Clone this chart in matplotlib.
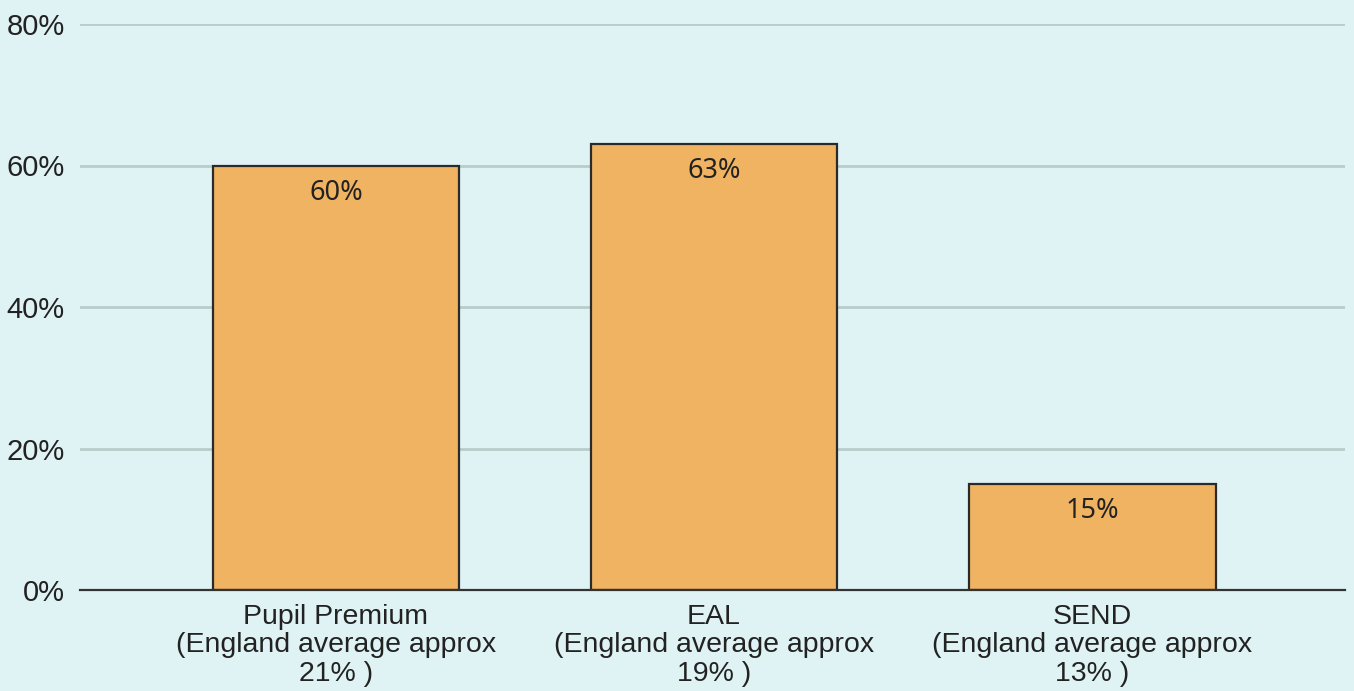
import matplotlib
matplotlib.use('Agg')
import matplotlib.pyplot as plt
import numpy as np

categories = ['Pupil Premium\n(England average approx\n21% )',
              'EAL\n(England average approx\n19% )',
              'SEND\n(England average approx\n13% )']
values = [60, 63, 15]
yticks = [0, 20, 40, 60, 80]

bg = '#dff3f5'
bar_col = '#f0b362'

fig = plt.figure(figsize=(13.54, 6.91), dpi=100, facecolor=bg)
ax = fig.add_axes([80/1354, 1-590/691, 1265/1354, 566/691])
ax.set_facecolor(bg)

x = np.arange(len(values))
bars = ax.bar(x, values, width=0.653, color=bar_col, edgecolor='#2a2a2a', linewidth=1.6, zorder=3)

for b, v in zip(bars, values):
    ax.annotate('%d%%' % v, (b.get_x() + b.get_width()/2, v), xytext=(0, -9.5),
                textcoords='offset points', ha='center', va='top',
                fontsize=19.5, family='Noto Sans', color='#222222', zorder=4)

ax.set_ylim(0, 80)
ax.set_xlim(-0.677, 2.669)
ax.set_yticks(yticks)
ax.set_yticklabels(['%d%%' % t for t in yticks], family='Liberation Sans', fontsize=21, color='#222222')
ax.set_xticks(x)
ax.set_xticklabels(categories, family='Liberation Sans', fontsize=20.5, color='#222222', linespacing=1.12)
ax.tick_params(axis='both', length=0)
ax.tick_params(axis='y', pad=11)
ax.tick_params(axis='x', pad=10)

ax.grid(axis='y', color='#b9cccc', linewidth=2, zorder=0)
for s in ['top', 'right', 'left']:
    ax.spines[s].set_visible(False)
ax.spines['bottom'].set_color('#333333')
ax.spines['bottom'].set_linewidth(1.6)
ax.spines['bottom'].set_zorder(5)

fig.savefig('out.png', dpi=100, facecolor=bg)
